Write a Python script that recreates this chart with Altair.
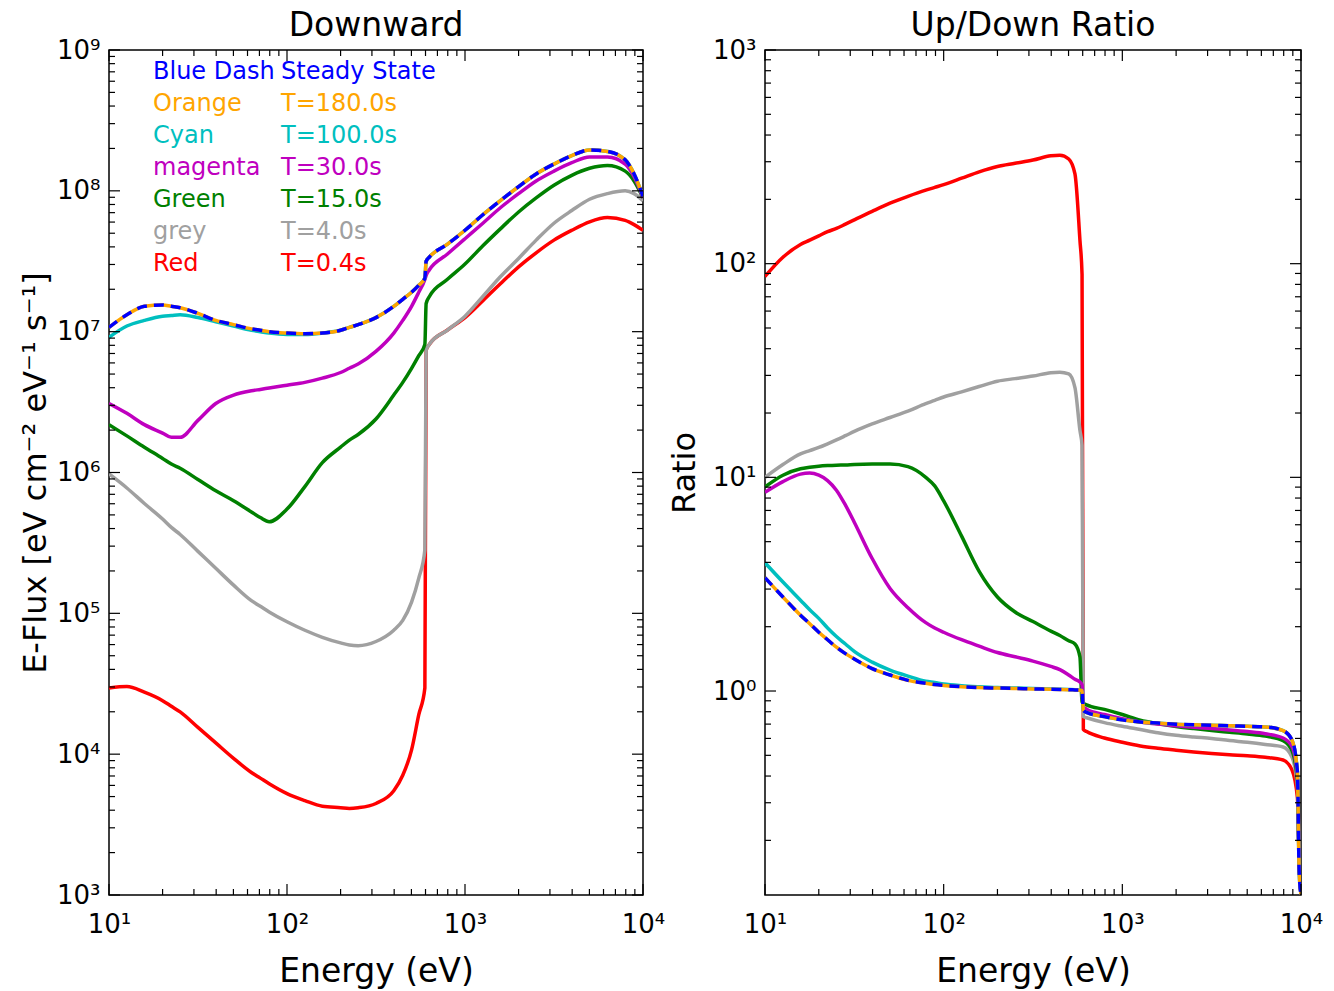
import altair as alt
import pandas as pd

FONT = "DejaVu Sans"

# ---------------- data ----------------
# Energy grid of the left (Downward) panel, eV
E_LEFT = [10, 12.6, 15.8, 20, 22.4, 25.1, 31.6, 39.8, 50.1, 63.1, 70.8, 79.4, 100, 126, 158,
          200, 224, 251, 316, 398, 447, 501, 550, 595, 605, 631, 794, 1000, 1260, 1580,
          2000, 2510, 3160, 3980, 5010, 6310, 7940, 8910, 10000]

# log10 of E-Flux (one value per energy in E_LEFT)
DOWN_STEADY = [7.03, 7.12, 7.18, 7.19, 7.18, 7.17, 7.13, 7.08, 7.05, 7.02, 7.01, 7.00, 6.99, 6.985, 6.99,
               7.01, 7.03, 7.05, 7.10, 7.18, 7.23, 7.28, 7.33, 7.38, 7.50, 7.53, 7.62, 7.72, 7.83, 7.93,
               8.03, 8.12, 8.19, 8.25, 8.29, 8.28, 8.22, 8.12, 7.96]
DOWN_CYAN = [6.96, 7.04, 7.08, 7.11, 7.115, 7.12, 7.10, 7.07, 7.04, 7.01, 7.00, 6.99, 6.98, 6.98, 6.99,
             7.01, 7.03, 7.05, 7.10, 7.18, 7.23, 7.28, 7.33, 7.38, 7.50, 7.53, 7.62, 7.72, 7.83, 7.93,
             8.03, 8.12, 8.19, 8.25, 8.29, 8.28, 8.22, 8.12, 7.96]
DOWN_MAGENTA = [6.49, 6.42, 6.34, 6.28, 6.25, 6.25, 6.37, 6.49, 6.55, 6.58, 6.59, 6.60, 6.62, 6.64, 6.67,
                6.71, 6.74, 6.77, 6.86, 6.99, 7.08, 7.18, 7.28, 7.37, 7.40, 7.44, 7.55, 7.66, 7.77, 7.88,
                7.98, 8.07, 8.14, 8.20, 8.24, 8.24, 8.19, 8.10, 7.95]
DOWN_GREEN = [6.34, 6.26, 6.18, 6.10, 6.06, 6.03, 5.95, 5.87, 5.80, 5.72, 5.68, 5.65, 5.74, 5.90, 6.07,
              6.18, 6.23, 6.27, 6.38, 6.55, 6.64, 6.74, 6.83, 6.91, 7.20, 7.25, 7.37, 7.48, 7.61, 7.73,
              7.85, 7.95, 8.04, 8.11, 8.16, 8.18, 8.14, 8.07, 7.95]
DOWN_GREY = [5.99, 5.89, 5.78, 5.67, 5.61, 5.56, 5.44, 5.32, 5.20, 5.09, 5.05, 5.01, 4.94, 4.88, 4.83,
             4.79, 4.775, 4.77, 4.80, 4.88, 4.95, 5.08, 5.25, 5.45, 6.87, 6.91, 7.01, 7.11, 7.25, 7.39,
             7.52, 7.65, 7.77, 7.86, 7.94, 7.98, 8.00, 7.98, 7.93]
DOWN_RED = [4.47, 4.48, 4.44, 4.38, 4.34, 4.30, 4.19, 4.08, 3.97, 3.87, 3.83, 3.79, 3.72, 3.67, 3.63,
            3.62, 3.615, 3.62, 3.65, 3.74, 3.85, 4.03, 4.28, 4.47, 6.87, 6.91, 7.01, 7.10, 7.22, 7.34,
            7.46, 7.56, 7.65, 7.72, 7.78, 7.81, 7.79, 7.76, 7.72]

# Energy grid of the right (Up/Down Ratio) panel, eV
E_RIGHT = [10, 12.6, 15.8, 17.8, 20, 22.4, 25.1, 28.2, 31.6, 39.8, 50.1, 63.1, 79.4, 89.1, 100,
           126, 158, 200, 251, 316, 398, 447, 501, 543, 579, 595, 605, 631, 794, 1000,
           1260, 1580, 2000, 2510, 3160, 3980, 5010, 6310, 7940, 8910, 9550, 9770, 10000]

# log10 of the ratio (one value per energy in E_RIGHT)
RATIO_STEADY = [0.53, 0.44, 0.355, 0.315, 0.275, 0.24, 0.205, 0.175, 0.15, 0.105, 0.075, 0.05, 0.036, 0.03, 0.026,
                0.02, 0.016, 0.014, 0.012, 0.01, 0.008, 0.007, 0.006, 0.005, 0.004, 0.002, -0.09, -0.10, -0.12, -0.135,
                -0.145, -0.15, -0.155, -0.158, -0.16, -0.163, -0.165, -0.168, -0.185, -0.23, -0.38, -0.85, -0.95]
RATIO_CYAN = [0.60, 0.51, 0.425, 0.38, 0.34, 0.295, 0.255, 0.22, 0.185, 0.135, 0.098, 0.07, 0.046, 0.04, 0.033,
              0.025, 0.02, 0.016, 0.014, 0.012, 0.009, 0.008, 0.007, 0.006, 0.004, 0.003, -0.09, -0.10, -0.12, -0.135,
              -0.145, -0.15, -0.155, -0.158, -0.16, -0.163, -0.165, -0.168, -0.185, -0.23, -0.38, -0.85, -0.95]
RATIO_MAGENTA = [0.93, 0.98, 1.015, 1.02, 1.01, 0.985, 0.94, 0.87, 0.79, 0.62, 0.48, 0.39, 0.32, 0.295, 0.275,
                 0.24, 0.21, 0.18, 0.16, 0.14, 0.115, 0.10, 0.075, 0.055, 0.042, 0.03, -0.075, -0.085, -0.11, -0.13,
                 -0.145, -0.155, -0.163, -0.17, -0.175, -0.182, -0.19, -0.20, -0.22, -0.26, -0.40, -0.80, -0.95]
RATIO_GREEN = [0.955, 1.01, 1.04, 1.047, 1.052, 1.055, 1.057, 1.058, 1.06, 1.062, 1.062, 1.05, 1.0, 0.96, 0.89,
               0.725, 0.56, 0.44, 0.37, 0.325, 0.28, 0.26, 0.235, 0.22, 0.16, -0.05, -0.056, -0.065, -0.086, -0.11,
               -0.137, -0.153, -0.166, -0.176, -0.185, -0.193, -0.201, -0.211, -0.232, -0.28, -0.42, -0.80, -0.95]
RATIO_GREY = [1.00, 1.06, 1.11, 1.125, 1.14, 1.157, 1.175, 1.195, 1.215, 1.25, 1.28, 1.31, 1.345, 1.36, 1.376,
              1.40, 1.425, 1.45, 1.462, 1.474, 1.49, 1.492, 1.484, 1.42, 1.22, 1.15, -0.12, -0.125, -0.148, -0.165,
              -0.18, -0.195, -0.207, -0.215, -0.222, -0.232, -0.24, -0.25, -0.262, -0.31, -0.45, -0.80, -0.95]
RATIO_RED = [1.94, 2.03, 2.09, 2.11, 2.13, 2.15, 2.165, 2.185, 2.205, 2.245, 2.283, 2.315, 2.344, 2.357, 2.37,
             2.40, 2.43, 2.455, 2.47, 2.485, 2.505, 2.508, 2.49, 2.42, 2.11, 1.95, -0.18, -0.19, -0.22, -0.24,
             -0.257, -0.268, -0.277, -0.285, -0.292, -0.298, -0.303, -0.31, -0.323, -0.37, -0.50, -0.80, -0.95]

LEGEND_NAMES = ["Blue Dash", "Orange", "Cyan", "magenta", "Green", "grey", "Red"]
LEGEND_TIMES = ["Steady State", "T=180.0s", "T=100.0s", "T=30.0s", "T=15.0s", "T=4.0s", "T=0.4s"]

# tick positions
X_MAJOR = [10, 100, 1000, 10000]
X_MINOR = [k * 10 ** n for n in (1, 2, 3) for k in range(2, 10)]
YL_MAJOR = [10 ** n for n in range(3, 10)]
YL_MINOR = [k * 10 ** n for n in range(3, 9) for k in range(2, 10)]
YR_MAJOR = [1, 10, 100, 1000]
YR_MINOR = [k / 10 for k in range(2, 10)] + [k * 10 ** n for n in (0, 1, 2) for k in range(2, 10)]

# ---------------- styles ----------------
C_BLUE, C_ORANGE, C_CYAN = "#0000FF", "#FFA500", "#00BFBF"
C_MAGENTA, C_GREEN, C_GREY, C_RED = "#BF00BF", "#008000", "#A0A0A0", "#FF0000"
LEGEND_COLORS = [C_BLUE, C_ORANGE, C_CYAN, C_MAGENTA, C_GREEN, C_GREY, C_RED]

W_L, W_R, H = 534, 536, 845
SUP = "['\u2070','\u00b9','\u00b2','\u00b3','\u2074','\u2075','\u2076','\u2077','\u2078','\u2079']"
LABEL_EXPR = "'10' + " + SUP + "[round(log(datum.value)/LN10)]"
MAJ, MINL = 11, 6


def series_df(E, logs):
    return pd.DataFrame({"E": E, "F": [10 ** v for v in logs]})


def panel(series, ydomain, ymajor, yminor, width, title, ytitle, ytitle_pad, legend=False):
    xscale = alt.Scale(type="log", domain=[10, 10000], nice=False)
    yscale = alt.Scale(type="log", domain=ydomain, nice=False)
    xaxis = alt.Axis(values=X_MAJOR, labelExpr=LABEL_EXPR, ticks=False, domain=False, grid=False,
                     title="Energy (eV)", labelFont=FONT, labelFontSize=26, labelPadding=16,
                     labelColor="black", titleColor="black", titleFont=FONT, titleFontSize=33,
                     titleFontWeight="normal", titlePadding=18, labelFlush=False)
    yaxis = alt.Axis(values=ymajor, labelExpr=LABEL_EXPR, ticks=False, domain=False, grid=False,
                     title=ytitle, labelFont=FONT, labelFontSize=26, labelPadding=9,
                     labelColor="black", titleColor="black", titleFont=FONT, titleFontSize=32,
                     titleFontWeight="normal", titlePadding=ytitle_pad, labelFlush=False)
    xenc = alt.X("E:Q", scale=xscale, axis=xaxis)
    yenc = alt.Y("F:Q", scale=yscale, axis=yaxis)

    layers = []
    for df, color, dash in series:
        kw = dict(color=color, strokeWidth=3.5, clip=True, strokeJoin="round", interpolate="monotone")
        if dash:
            kw["strokeDash"] = dash
        layers.append(alt.Chart(df).mark_line(**kw).encode(x=xenc, y=yenc))

    def xticks(vals, length):
        d = pd.DataFrame({"E": vals})
        bot = alt.Chart(d).mark_rule(color="black", strokeWidth=1.2).encode(
            x=xenc, y=alt.value(H), y2=alt.value(H - length))
        top = alt.Chart(d).mark_rule(color="black", strokeWidth=1.2).encode(
            x=xenc, y=alt.value(0), y2=alt.value(length))
        return [bot, top]

    def yticks(vals, length):
        d = pd.DataFrame({"F": vals})
        lef = alt.Chart(d).mark_rule(color="black", strokeWidth=1.2).encode(
            y=yenc, x=alt.value(0), x2=alt.value(length))
        rig = alt.Chart(d).mark_rule(color="black", strokeWidth=1.2).encode(
            y=yenc, x=alt.value(width), x2=alt.value(width - length))
        return [lef, rig]

    layers += xticks(X_MAJOR, MAJ) + xticks(X_MINOR, MINL)
    layers += yticks(ymajor, MAJ) + yticks(yminor, MINL)
    base = alt.layer(*layers)

    if legend:
        leg = pd.DataFrame({"name": LEGEND_NAMES, "time": LEGEND_TIMES, "color": LEGEND_COLORS,
                            "ypix": [22 + 32 * i for i in range(len(LEGEND_NAMES))]})
        t1 = alt.Chart(leg).mark_text(align="left", baseline="middle", font=FONT, fontSize=24).encode(
            x=alt.value(44), y=alt.Y("ypix:Q", scale=None, axis=None), text="name:N",
            color=alt.Color("color:N", scale=None))
        t2 = alt.Chart(leg).mark_text(align="left", baseline="middle", font=FONT, fontSize=24).encode(
            x=alt.value(172), y=alt.Y("ypix:Q", scale=None, axis=None), text="time:N",
            color=alt.Color("color:N", scale=None))
        chart = alt.layer(base, t1, t2).resolve_scale(y="independent", color="independent")
    else:
        chart = base

    return chart.properties(
        width=width, height=H,
        title=alt.TitleParams(title, font=FONT, fontSize=33, fontWeight="normal", color="black",
                              anchor="middle", offset=-6))


left_series = [
    (series_df(E_LEFT, DOWN_RED), C_RED, None),
    (series_df(E_LEFT, DOWN_GREY), C_GREY, None),
    (series_df(E_LEFT, DOWN_GREEN), C_GREEN, None),
    (series_df(E_LEFT, DOWN_MAGENTA), C_MAGENTA, None),
    (series_df(E_LEFT, DOWN_CYAN), C_CYAN, None),
    (series_df(E_LEFT, DOWN_STEADY), C_ORANGE, None),
    (series_df(E_LEFT, DOWN_STEADY), C_BLUE, [10, 7]),
]
right_series = [
    (series_df(E_RIGHT, RATIO_RED), C_RED, None),
    (series_df(E_RIGHT, RATIO_GREY), C_GREY, None),
    (series_df(E_RIGHT, RATIO_GREEN), C_GREEN, None),
    (series_df(E_RIGHT, RATIO_MAGENTA), C_MAGENTA, None),
    (series_df(E_RIGHT, RATIO_CYAN), C_CYAN, None),
    (series_df(E_RIGHT, RATIO_STEADY), C_ORANGE, None),
    (series_df(E_RIGHT, RATIO_STEADY), C_BLUE, [10, 7]),
]

left = panel(left_series, [1e3, 1e9], YL_MAJOR, YL_MINOR, W_L, "Downward",
             "E-Flux [eV cm\u207b\u00b2 eV\u207b\u00b9 s\u207b\u00b9]", 4, legend=True)
right = panel(right_series, [0.111, 1000], YR_MAJOR, YR_MINOR, W_R, "Up/Down Ratio", "Ratio", 11)

chart = alt.hconcat(left, right, spacing=122, bounds="flush").configure_view(
    stroke="black", strokeWidth=1.5).properties(
    padding={"left": 18, "top": 9, "right": 5, "bottom": 0}, background="white")

chart.save("out.html", embed_options={"renderer": "svg", "actions": False})
